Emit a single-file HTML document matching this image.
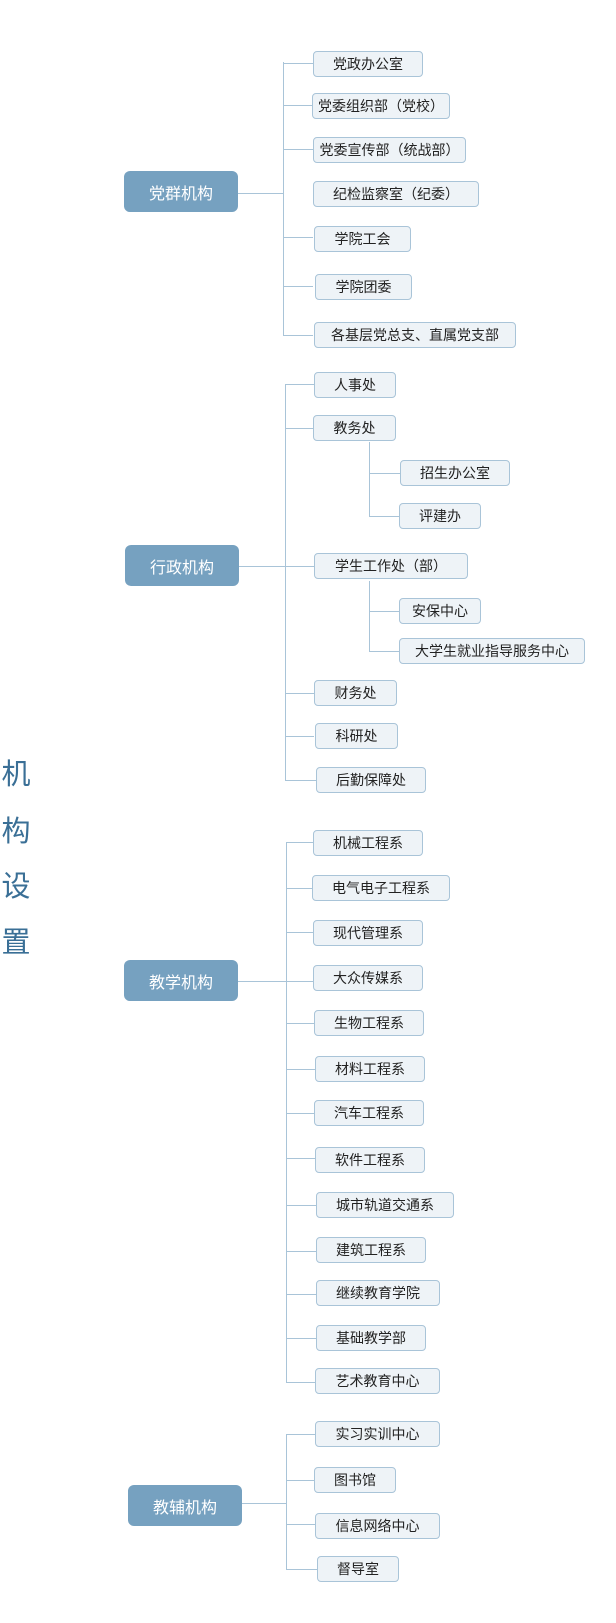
<!DOCTYPE html>
<html><head><meta charset="utf-8"><style>
body{margin:0;width:616px;height:1623px;background:#fff;position:relative;overflow:hidden;font-family:"Liberation Sans","Noto Sans CJK SC",sans-serif}
.b{position:absolute;height:24px;background:#eef3f7;border:1px solid #a9c4d8;border-radius:4px;display:flex;align-items:center;justify-content:center;font-size:14px;color:#222;box-sizing:content-box;white-space:nowrap}
.r{position:absolute;width:114px;height:41px;background:#76a1c0;border-radius:6px;color:#fff;font-size:16px;display:flex;align-items:center;justify-content:center}
.v{position:absolute;width:1px;background:#a9c4d8}
.h{position:absolute;height:1px;background:#a9c4d8}
.t{position:absolute;left:0;width:32px;font-size:29px;color:#3a6f96;text-align:center;line-height:30px}
</style></head><body>
<div class="t" style="top:760px">机</div>
<div class="t" style="top:817px">构</div>
<div class="t" style="top:872px">设</div>
<div class="t" style="top:928px">置</div>

<div class="r" style="left:124px;top:171px">党群机构</div>
<div class="h" style="left:238px;top:193px;width:45px"></div>
<div class="v" style="left:283px;top:62px;height:274px"></div>
<div class="h" style="left:283px;top:63px;width:30px"></div>
<div class="h" style="left:283px;top:105px;width:30px"></div>
<div class="h" style="left:283px;top:149px;width:30px"></div>
<div class="h" style="left:283px;top:237px;width:30px"></div>
<div class="h" style="left:283px;top:286px;width:30px"></div>
<div class="h" style="left:283px;top:335px;width:30px"></div>
<div class="b" style="left:313px;top:51px;width:108px">党政办公室</div>
<div class="b" style="left:312px;top:93px;width:136px">党委组织部（党校）</div>
<div class="b" style="left:313px;top:137px;width:151px">党委宣传部（统战部）</div>
<div class="b" style="left:313px;top:181px;width:164px">纪检监察室（纪委）</div>
<div class="b" style="left:314px;top:226px;width:95px">学院工会</div>
<div class="b" style="left:315px;top:274px;width:95px">学院团委</div>
<div class="b" style="left:314px;top:322px;width:200px">各基层党总支、直属党支部</div>

<div class="r" style="left:125px;top:545px">行政机构</div>
<div class="h" style="left:239px;top:566px;width:75px"></div>
<div class="v" style="left:285px;top:384px;height:397px"></div>
<div class="h" style="left:285px;top:384px;width:29px"></div>
<div class="h" style="left:285px;top:428px;width:29px"></div>
<div class="h" style="left:285px;top:693px;width:29px"></div>
<div class="h" style="left:285px;top:736px;width:29px"></div>
<div class="h" style="left:285px;top:780px;width:31px"></div>
<div class="b" style="left:314px;top:372px;width:80px">人事处</div>
<div class="b" style="left:313px;top:415px;width:81px">教务处</div>
<div class="v" style="left:369px;top:442px;height:75px"></div>
<div class="h" style="left:369px;top:473px;width:31px"></div>
<div class="h" style="left:369px;top:516px;width:30px"></div>
<div class="b" style="left:400px;top:460px;width:108px">招生办公室</div>
<div class="b" style="left:399px;top:503px;width:80px">评建办</div>
<div class="b" style="left:314px;top:553px;width:152px">学生工作处（部）</div>
<div class="v" style="left:369px;top:581px;height:71px"></div>
<div class="h" style="left:369px;top:611px;width:30px"></div>
<div class="h" style="left:369px;top:651px;width:30px"></div>
<div class="b" style="left:399px;top:598px;width:80px">安保中心</div>
<div class="b" style="left:399px;top:638px;width:184px">大学生就业指导服务中心</div>
<div class="b" style="left:314px;top:680px;width:81px">财务处</div>
<div class="b" style="left:315px;top:723px;width:81px">科研处</div>
<div class="b" style="left:316px;top:767px;width:108px">后勤保障处</div>

<div class="r" style="left:124px;top:960px">教学机构</div>
<div class="h" style="left:238px;top:981px;width:76px"></div>
<div class="v" style="left:286px;top:842px;height:540px"></div>
<div class="h" style="left:286px;top:842px;width:27px"></div>
<div class="h" style="left:286px;top:888px;width:27px"></div>
<div class="h" style="left:286px;top:932px;width:27px"></div>
<div class="h" style="left:286px;top:1023px;width:28px"></div>
<div class="h" style="left:286px;top:1069px;width:29px"></div>
<div class="h" style="left:286px;top:1113px;width:28px"></div>
<div class="h" style="left:286px;top:1158px;width:29px"></div>
<div class="h" style="left:286px;top:1205px;width:30px"></div>
<div class="h" style="left:286px;top:1251px;width:30px"></div>
<div class="h" style="left:286px;top:1294px;width:30px"></div>
<div class="h" style="left:286px;top:1338px;width:30px"></div>
<div class="h" style="left:286px;top:1382px;width:29px"></div>
<div class="b" style="left:313px;top:830px;width:108px">机械工程系</div>
<div class="b" style="left:312px;top:875px;width:136px">电气电子工程系</div>
<div class="b" style="left:313px;top:920px;width:108px">现代管理系</div>
<div class="b" style="left:313px;top:965px;width:108px">大众传媒系</div>
<div class="b" style="left:314px;top:1010px;width:108px">生物工程系</div>
<div class="b" style="left:315px;top:1056px;width:108px">材料工程系</div>
<div class="b" style="left:314px;top:1100px;width:108px">汽车工程系</div>
<div class="b" style="left:315px;top:1147px;width:108px">软件工程系</div>
<div class="b" style="left:316px;top:1192px;width:136px">城市轨道交通系</div>
<div class="b" style="left:316px;top:1237px;width:108px">建筑工程系</div>
<div class="b" style="left:316px;top:1280px;width:122px">继续教育学院</div>
<div class="b" style="left:316px;top:1325px;width:108px">基础教学部</div>
<div class="b" style="left:315px;top:1368px;width:123px">艺术教育中心</div>

<div class="r" style="left:128px;top:1485px">教辅机构</div>
<div class="h" style="left:242px;top:1503px;width:44px"></div>
<div class="v" style="left:286px;top:1434px;height:136px"></div>
<div class="h" style="left:286px;top:1434px;width:29px"></div>
<div class="h" style="left:286px;top:1480px;width:28px"></div>
<div class="h" style="left:286px;top:1524px;width:29px"></div>
<div class="h" style="left:286px;top:1569px;width:31px"></div>
<div class="b" style="left:315px;top:1421px;width:123px">实习实训中心</div>
<div class="b" style="left:314px;top:1467px;width:80px">图书馆</div>
<div class="b" style="left:315px;top:1513px;width:123px">信息网络中心</div>
<div class="b" style="left:317px;top:1556px;width:80px">督导室</div>
</body></html>
